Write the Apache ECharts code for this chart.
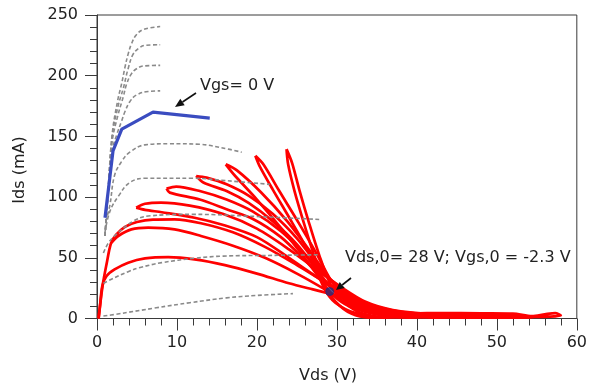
<!DOCTYPE html>
<html><head><meta charset="utf-8">
<script src="https://cdn.jsdelivr.net/npm/echarts@6/dist/echarts.min.js"></script>
<style>html,body{margin:0;padding:0;background:#fff}#c{width:590px;height:390px}</style>
</head><body><div id="c"></div>
<script>
// ---- static I-V curves (grey dashed), Vds [V], Ids [mA]
const gray240 = [[1.0,68],[1.4,107],[1.9,152],[2.6,180],[3.1,194],[3.5,207],[3.9,218],[4.3,226],[4.9,233.5],[5.8,238],[7.9,240.5]];
const gray225 = [[1.0,68],[1.4,106],[1.9,150],[2.6,174],[3.3,190],[3.9,206],[4.5,217.5],[5.2,222.5],[6,225],[7.9,225.5]];
const gray208 = [[1.0,68],[1.4,105],[1.9,146],[2.6,167],[3.3,183],[3.7,193],[4.3,201.5],[4.9,205.5],[5.8,208],[7.9,208.5]];
const gray187 = [[1.0,68],[1.4,103],[1.9,138],[2.5,152],[3.1,163],[3.5,170.5],[4.1,178.5],[4.9,184],[6.4,187],[7.9,187.5]];
const gray143 = [[1.1,80],[1.6,93],[2.2,118],[3.1,129.5],[4.1,137],[6,143],[9,144],[12.8,143.5],[16.4,139.5],[18.1,137]];
const gray115 = [[1.0,71],[1.6,88],[2.7,101],[4.1,112],[6,115.5],[12,115.5],[16.2,113.5],[21.6,110.5]];
const gray84  = [[0.8,54],[1.4,62],[2.2,68],[4.5,80],[6.4,84.4],[12,85.8],[20,84],[28,81.5]];
const gray51  = [[0.8,29],[1.6,31.7],[3.9,38.6],[5.4,42],[8.1,46],[12.2,49.6],[15.8,51.4],[22,52],[27.6,52.5]];
const gray18  = [[0.8,2],[2.2,3.3],[7.4,8.8],[11.6,13],[16.2,17],[20,19],[24.5,20.5]];
const grayCurves = [gray240, gray225, gray208, gray187, gray143, gray115, gray84, gray51, gray18];

// ---- Vgs = 0 V curve (blue)
const vgs0 = [[1.0,83],[2.0,138],[3.1,156],[7.0,170],[14.1,165]];

// ---- dynamic load-line loops (red)
const loopA = [[23.7,139.5],[24.4,128],[25.3,106],[26.5,79],[27.8,52],[29.2,28],[30.6,15],[32.5,6],[34.5,2],[35.5,1],[34,0.8],[31.8,4],[29.8,14],[28.6,26],[27.2,51],[25.9,78],[24.7,105],[23.9,127],[23.7,139.5]];
const loopB = [[19.8,134],[20.8,127],[22.7,106],[25.2,79],[27.4,54],[29.2,32],[31,17],[33.5,7],[36.5,2.2],[38,1],[36,0.8],[32.5,4],[29.8,13],[28.4,25],[26.6,53],[24.4,79],[22,106],[20.3,126],[19.8,134]];
const loopC = [[16.1,127],[17.5,122],[20.5,104],[23.8,80],[26.8,54],[29.3,31],[31.5,17],[34.5,8],[38,3],[41,1.2],[39,0.8],[34.5,4],[31,12],[29,23],[26.3,47],[23.2,73],[20,98],[17.2,118],[16.1,127]];
const loopD = [[12.4,117.4],[13.7,116],[16.2,110.5],[19,101],[22,86],[25,66],[27.5,45],[29.5,30],[32,17],[35,8.5],[39,3.5],[44,1.5],[42,0.8],[36,3.5],[32,11],[29.5,24],[27.5,40],[25,61],[22,80],[19,95],[16.2,105],[13.3,112],[12.4,117.4]];
const loopE = [[8.7,107],[9.9,108.7],[12.85,105],[16.2,98],[19.5,88],[23,72],[26,53],[28.5,36],[31,23],[34,12],[38,5.5],[43,2.8],[48,1.5],[46,0.8],[39,2.5],[34,7.5],[31,17],[28.5,31],[26,48],[23,67],[19.5,82],[16.2,90],[12.85,98],[9.1,103.7],[8.7,107]];
const loopF = [[4.9,91.3],[6,94.5],[8,95.5],[11.6,93],[15.8,86],[20,74],[24,57],[27.5,40],[30.5,26],[33.5,14],[37,7],[42,3.5],[48,2.5],[52,1.5],[50,0.8],[42,1.8],[37,4],[33.5,9],[30.5,20],[27.5,34],[24,50],[20,67],[15.8,77],[12.2,83],[8.1,87.5],[6,89.5],[4.9,91.3]];
const loopG = [[0.2,0],[0.7,27],[1.2,45],[1.75,62],[2.4,69],[3.5,75.5],[5,79.5],[7,81.5],[9.7,81.7],[13,78.5],[17,71],[21,59],[25,44],[28.5,30],[31.5,19],[34.5,10],[38,5],[44,3.5],[50,2.8],[55,1.5],[52,0.8],[44,1.5],[37,3],[32,10],[28.5,24],[25,37],[21,50],[17,60],[13,68],[9.7,73.4],[6.4,74.8],[4.3,73.4],[2.7,68],[1.75,62]];
const loopJ = [[0.2,0],[0.4,12],[0.67,27],[1.2,35],[2.2,40.4],[3.9,46],[6,49.5],[8.9,50.5],[12.2,48.7],[16,44],[20,37],[24,29],[27,24],[29.5,20],[31.1,18.4],[33.2,11.5],[35.3,7.4],[39.5,4.2],[43,4.5],[48,4.2],[52,4],[54.4,2],[56,3.5],[57.3,4.5],[58,2.5],[56.5,1.5],[54,1.2],[48,1],[41,1.5]];
const loops = [loopA, loopB, loopC, loopD, loopE, loopF, loopG, loopJ];

// ---- quiescent point
const qPoint = [[29.1,22.2]];

const FONT = '"DejaVu Sans", sans-serif';
const chart = echarts.init(document.getElementById('c'), null, {renderer:'canvas'});

const series = [];
loops.forEach(d => series.push({
  type:'line', data:d, smooth:0.3, showSymbol:false, z:3,
  lineStyle:{color:'#ff0000', width:2.7}
}));
grayCurves.forEach(d => series.push({
  type:'line', data:d, smooth:0.4, showSymbol:false, z:4,
  lineStyle:{color:'#8a8a8a', width:1.6, type:[4,2.5]}
}));
series.push({type:'line', data:vgs0, smooth:false, showSymbol:false, z:5,
  lineStyle:{color:'#3a4cc0', width:3.2}});
series.push({type:'scatter', data:qPoint, symbolSize:8, z:6,
  itemStyle:{color:'#2b2a78', borderColor:'#2b2a78'}});

const axisCommon = {
  type:'value',
  axisLine:{show:true, lineStyle:{color:'#3a3a3a', width:1}},
  axisTick:{show:true, length:12, lineStyle:{color:'#3a3a3a', width:1}},
  minorTick:{show:true, splitNumber:5, length:7, lineStyle:{color:'#3a3a3a', width:1}},
  splitLine:{show:false},
  minorSplitLine:{show:false}
};

chart.setOption({
  animation:false,
  backgroundColor:'#ffffff',
  grid:{left:97, right:12, top:15, bottom:71.5, show:true, borderColor:'#3a3a3a', borderWidth:1, backgroundColor:'transparent'},
  xAxis:Object.assign({}, axisCommon, {min:0, max:60, interval:10,
    axisLabel:{fontSize:16, fontFamily:FONT, color:'#222', margin:16}}),
  yAxis:Object.assign({}, axisCommon, {min:0, max:250, interval:50,
    axisLabel:{fontSize:16, fontFamily:FONT, color:'#222', margin:19}}),
  series:series,
  graphic:[
    {type:'text', x:20, y:170, rotation:Math.PI/2,
      style:{text:'Ids (mA)', fontSize:16, fontFamily:FONT, fill:'#222', align:'center', verticalAlign:'middle'}},
    {type:'text', x:328, y:376,
      style:{text:'Vds (V)', fontSize:16, fontFamily:FONT, fill:'#222', align:'center', verticalAlign:'middle'}},
    {type:'text', x:200, y:86,
      style:{text:'Vgs= 0 V', fontSize:16, fontFamily:FONT, fill:'#222', align:'left', verticalAlign:'middle'}},
    {type:'text', x:345, y:258,
      style:{text:'Vds,0= 28 V; Vgs,0 = -2.3 V', fontSize:16, fontFamily:FONT, fill:'#222', align:'left', verticalAlign:'middle'}},
    {type:'line', shape:{x1:196, y1:93, x2:182.5, y2:102}, style:{stroke:'#111', lineWidth:1.6}, z:10},
    {type:'polygon', shape:{points:[[175,107],[184.7,105.3],[180.3,98.7]]}, style:{fill:'#111'}, z:10},
    {type:'line', shape:{x1:351, y1:278, x2:342.2, y2:285}, style:{stroke:'#111', lineWidth:1.6}, z:10},
    {type:'polygon', shape:{points:[[336,290],[344.7,288.1],[339.7,281.9]]}, style:{fill:'#111'}, z:10}
  ]
});
</script>
</body></html>
